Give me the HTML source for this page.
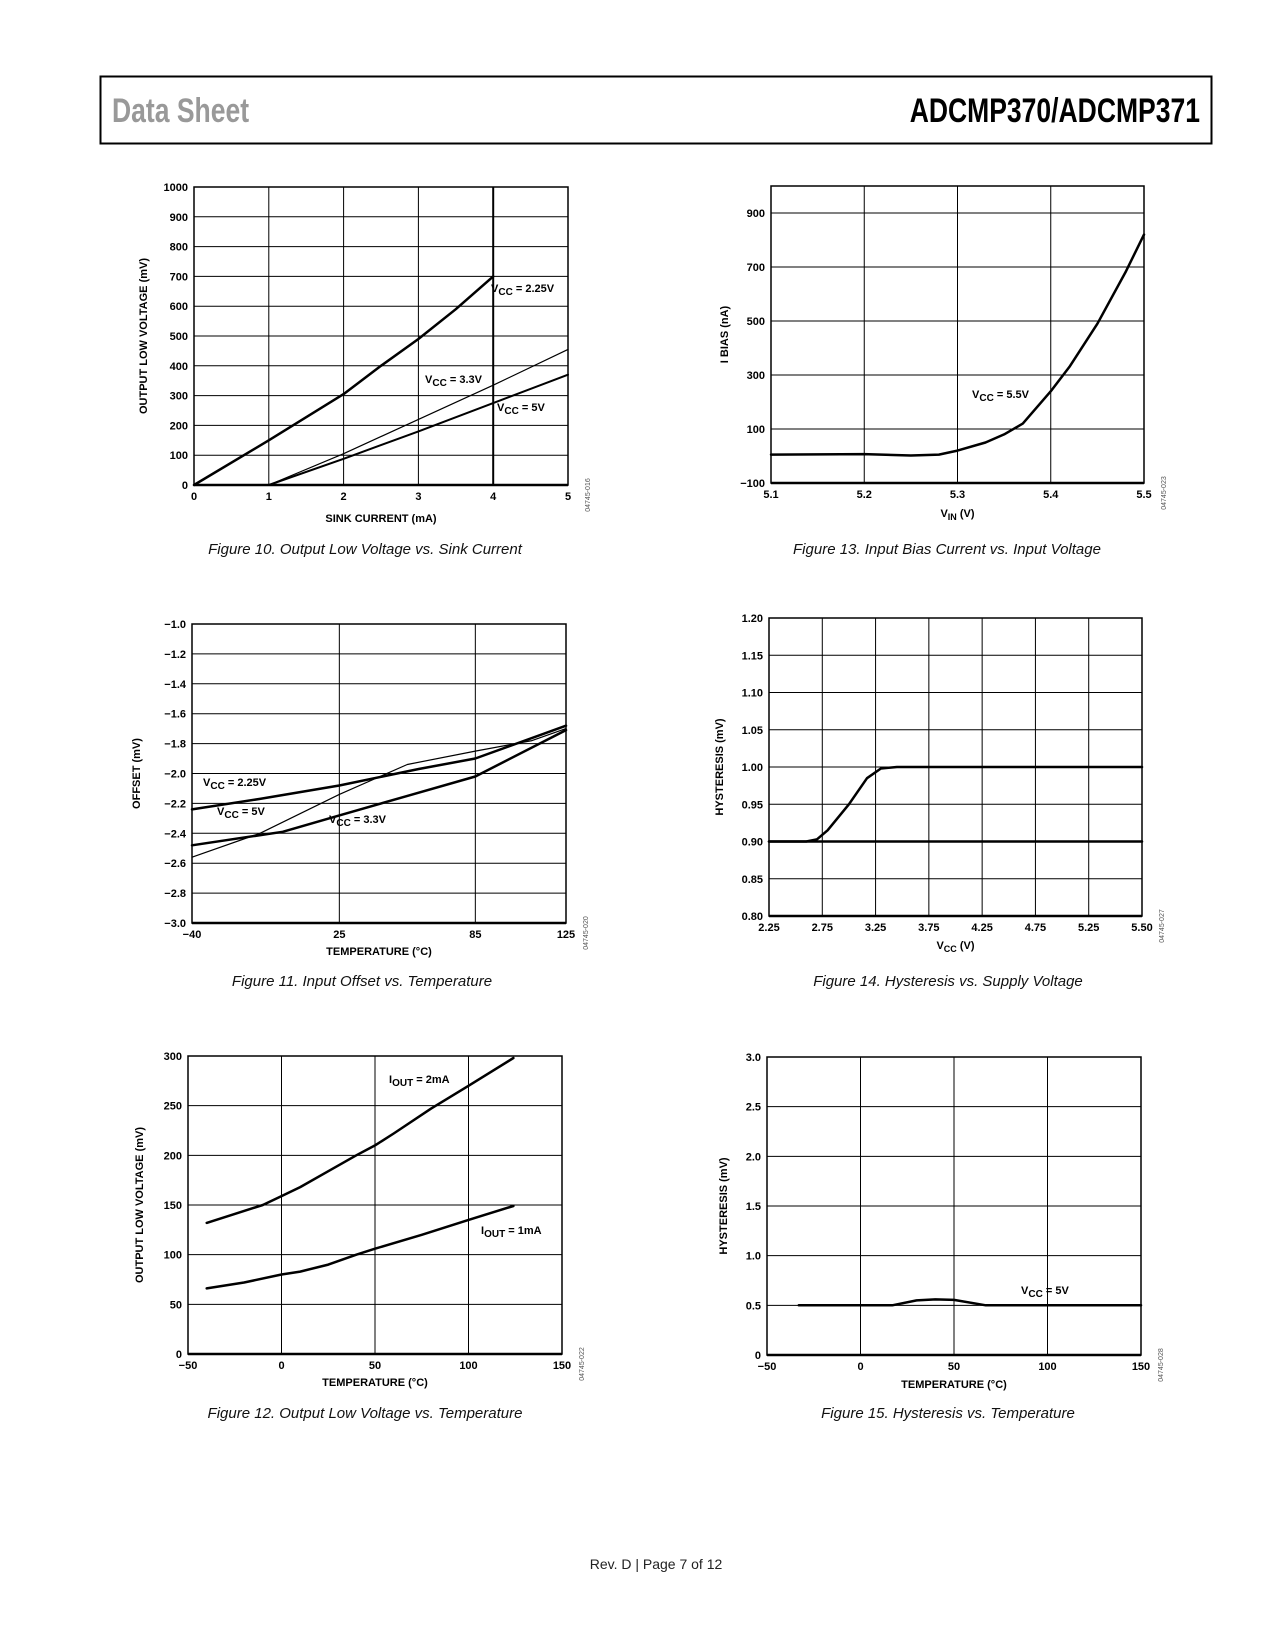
<!DOCTYPE html>
<html><head><meta charset="utf-8"><style>
body{margin:0;background:#fff;width:1275px;height:1650px;overflow:hidden;font-family:"Liberation Sans",sans-serif}
svg{position:absolute;left:0;top:0}
</style></head><body>
<svg id="pg" width="1275" height="1650" xmlns="http://www.w3.org/2000/svg">
<rect x="100.5" y="76.5" width="1111" height="67" fill="none" stroke="#000" stroke-width="2"/>
<text x="112" y="122" font-size="34" fill="#999" font-weight="bold" transform="translate(112,0) scale(0.78,1) translate(-112,0)">Data Sheet</text>
<text x="1200" y="122" font-size="34" fill="#000" font-weight="bold" text-anchor="end" transform="translate(1200,0) scale(0.78,1) translate(-1200,0)">ADCMP370/ADCMP371</text>
<text x="656" y="1569" font-size="14" text-anchor="middle" fill="#222">Rev. D | Page 7 of 12</text>
</svg>
<script>
// ---- data arrays ----
const fig10X = [0,1,2,3,4,5];
const fig10Y = [0,100,200,300,400,500,600,700,800,900,1000];
const fig10A_x = [0,1,2,2.5,3,3.5,4];
const fig10A_y = [0,150,305,400,490,590,700];
const fig10B_x = [1,2,3,4,5];
const fig10B_y = [0,105,220,335,455];
const fig10C_x = [1,2,3,4,5];
const fig10C_y = [0,88,180,275,370];

const fig13X = [5.1,5.2,5.3,5.4,5.5];
const fig13Y = [-100,100,300,500,700,900];
const fig13_x = [5.1,5.2,5.25,5.28,5.3,5.33,5.35,5.37,5.4,5.42,5.45,5.48,5.5];
const fig13_y = [5,7,2,5,20,50,80,120,240,330,490,680,820];

const fig11X = [-40,25,85,125];
const fig11Y = [-3.0,-2.8,-2.6,-2.4,-2.2,-2.0,-1.8,-1.6,-1.4,-1.2,-1.0];
const fig11A_x = [-40,-10,25,60,85,125];
const fig11A_y = [-2.24,-2.17,-2.08,-1.97,-1.9,-1.68];
const fig11B_x = [-40,0,25,55,85,125];
const fig11B_y = [-2.48,-2.39,-2.28,-2.15,-2.02,-1.71];
const fig11C_x = [-40,-10,25,55,85,110,125];
const fig11C_y = [-2.56,-2.4,-2.14,-1.94,-1.85,-1.78,-1.7];

const fig14X = [2.25,2.75,3.25,3.75,4.25,4.75,5.25,5.5];
const fig14XLabels = ["2.25","2.75","3.25","3.75","4.25","4.75","5.25","5.50"];
const fig14Y = [0.8,0.85,0.9,0.95,1.0,1.05,1.1,1.15,1.2];
const fig14_x = [2.25,2.6,2.7,2.8,3.0,3.17,3.3,3.45,5.5];
const fig14_y = [0.9,0.9,0.903,0.915,0.95,0.985,0.998,1.0,1.0];
const fig14B_x = [2.25,5.5];
const fig14B_y = [0.9,0.9];

const fig12X = [-50,0,50,100,150];
const fig12Y = [0,50,100,150,200,250,300];
const fig12A_x = [-40,-25,-10,0,10,25,40,50,60,80,100,124];
const fig12A_y = [132,141,150,159,168,184,200,210,222,247,270,298];
const fig12B_x = [-40,-20,0,10,25,40,50,75,100,124];
const fig12B_y = [66,72,80,83,90,100,106,120,135,149];

const fig15X = [-50,0,50,100,150];
const fig15Y = [0,0.5,1.0,1.5,2.0,2.5,3.0];
const fig15YLabels = ["0","0.5","1.0","1.5","2.0","2.5","3.0"];
const fig15_x = [-33,17,30,40,50,67,150];
const fig15_y = [0.5,0.5,0.55,0.56,0.555,0.5,0.5];

const NS="http://www.w3.org/2000/svg";
const pg=document.getElementById('pg');
function mk(tag,attrs,parent){const e=document.createElementNS(NS,tag);for(const k in attrs)e.setAttribute(k,attrs[k]);(parent||pg).appendChild(e);return e;}
function fmt(v){return (v<0?"\u2212":"")+Math.abs(v).toString();}

function chart(c){
  const g=mk('g',{});
  
  
  let sx;
  if(c.evenX){
    const n=c.xt.length-1;
    sx=v=>{
      let i=0;while(i<n-1&&v>c.xt[i+1])i++;
      const f=(v-c.xt[i])/(c.xt[i+1]-c.xt[i]);
      return c.L+(i+f)/n*(c.R-c.L);
    };
  } else sx=v=>c.L+(v-c.xmin)/(c.xmax-c.xmin)*(c.R-c.L);
  const sy=v=>c.B-(v-c.ymin)/(c.ymax-c.ymin)*(c.B-c.T);
  c.xt.forEach((v,i)=>{
    const ln=mk('line',{x1:sx(v),x2:sx(v),y1:c.T,y2:c.B,stroke:'#000','stroke-width':(c.thickX&&c.thickX.includes(v))?2:1},g);
    
    
    const t=mk('text',{x:sx(v),y:c.B+15,'font-size':11,'font-weight':'bold','text-anchor':'middle'},g);
    t.textContent=c.xl?c.xl[i]:fmt(v);
    
    
  });
  c.yt.forEach((v,i)=>{
    const ln=mk('line',{x1:c.L,x2:c.R,y1:sy(v),y2:sy(v),stroke:'#000','stroke-width':1},g);
    
    
    const t=mk('text',{x:c.L-6,y:sy(v)+4,'font-size':11,'font-weight':'bold','text-anchor':'end'},g);
    t.textContent=c.yl?c.yl[i]:(c.yfix!==undefined?(v<0?"\u2212":"")+Math.abs(v).toFixed(c.yfix):fmt(v));
    
    
  });
  const fr=mk('rect',{x:c.L,y:c.T,width:c.R-c.L,height:c.B-c.T,fill:'none',stroke:'#000','stroke-width':1.5},g);
  
  
  const ax=mk('line',{x1:c.L,x2:c.R,y1:c.B,y2:c.B,stroke:'#000','stroke-width':2.5},g);
  
  
  c.series.forEach(s=>{
    const pts=s.x.map((v,i)=>sx(v).toFixed(1)+','+sy(s.y[i]).toFixed(1)).join(' ');
    const p=mk('polyline',{points:pts,fill:'none',stroke:'#000','stroke-width':s.w,'stroke-linejoin':'round','stroke-linecap':'round'},g);
    
    
  });
  c.labels.forEach(l=>{
    const t=mk('text',{x:l.x,y:l.y,'font-size':11,'font-weight':'bold'},g);
    
    
    const a=mk('tspan',{},t);a.textContent=l.a;
    const b=mk('tspan',{dy:3,'font-size':10},t);b.textContent=l.sub;
    const d=mk('tspan',{dy:-3},t);d.textContent=l.rest;
  });
  const xt=mk('text',{x:(c.L+c.R)/2,y:c.B+c.xty,'font-size':11,'font-weight':'bold','text-anchor':'middle'},g);
  
  
  if(c.xsub){const a=mk('tspan',{},xt);a.textContent=c.xtitle;const b=mk('tspan',{dy:3,'font-size':9},xt);b.textContent=c.xsub;const d=mk('tspan',{dy:-3},xt);d.textContent=c.xrest;}
  else xt.textContent=c.xtitle;
  const yx=c.L-c.ytx, yy=(c.T+c.B)/2;
  const yt=mk('text',{x:yx,y:yy,'font-size':11,'font-weight':'bold','text-anchor':'middle',transform:`rotate(-90 ${yx} ${yy})`},g);
  yt.textContent=c.ytitle;
  
  
  const cx=c.R+22, cy=c.B+10;
  const cd=mk('text',{x:cx,y:cy,'font-size':7,fill:'#555','text-anchor':'middle',transform:`rotate(-90 ${cx} ${cy})`},g);
  cd.textContent=c.code;
  
  
  const cp=mk('text',{x:c.capx,y:c.capy,'font-size':15,'font-style':'italic','text-anchor':'middle',fill:'#111'},g);
  cp.textContent=c.caption;
  
  
}

chart({name:'figure-10-chart',L:194,T:187,R:568,B:485,xmin:0,xmax:5,ymin:0,ymax:1000,xt:fig10X,yt:fig10Y,thickX:[4],
 series:[{name:'line-vcc-2.25v',x:fig10A_x,y:fig10A_y,w:2.5},{name:'line-vcc-3.3v',x:fig10B_x,y:fig10B_y,w:1.2},{name:'line-vcc-5v',x:fig10C_x,y:fig10C_y,w:2}],
 labels:[{x:491,y:292,a:'V',sub:'CC',rest:' = 2.25V'},{x:425,y:383,a:'V',sub:'CC',rest:' = 3.3V'},{x:497,y:411,a:'V',sub:'CC',rest:' = 5V'}],
 xtitle:'SINK CURRENT (mA)',xty:37,ytitle:'OUTPUT LOW VOLTAGE (mV)',ytx:47,code:'04745-016',capx:365,capy:554,caption:'Figure 10. Output Low Voltage vs. Sink Current'});

chart({name:'figure-13-chart',L:771,T:186,R:1144,B:483,xmin:5.1,xmax:5.5,ymin:-100,ymax:1000,xt:fig13X,yt:fig13Y,
 series:[{name:'line-vcc-5.5v',x:fig13_x,y:fig13_y,w:2.5}],
 labels:[{x:972,y:398,a:'V',sub:'CC',rest:' = 5.5V'}],
 xtitle:'V',xsub:'IN',xrest:' (V)',xty:34,ytitle:'I BIAS (nA)',ytx:43,code:'04745-023',capx:947,capy:554,caption:'Figure 13. Input Bias Current vs. Input Voltage'});

chart({name:'figure-11-chart',L:192,T:624,R:566,B:923,xmin:-40,xmax:125,ymin:-3.0,ymax:-1.0,xt:fig11X,yt:fig11Y,yfix:1,
 series:[{name:'line-vcc-2.25v',x:fig11A_x,y:fig11A_y,w:2.5},{name:'line-vcc-3.3v',x:fig11B_x,y:fig11B_y,w:2.5},{name:'line-vcc-5v',x:fig11C_x,y:fig11C_y,w:1.2}],
 labels:[{x:203,y:786,a:'V',sub:'CC',rest:' = 2.25V'},{x:217,y:815,a:'V',sub:'CC',rest:' = 5V'},{x:329,y:823,a:'V',sub:'CC',rest:' = 3.3V'}],
 xtitle:'TEMPERATURE (\u00B0C)',xty:32,ytitle:'OFFSET (mV)',ytx:52,code:'04745-020',capx:362,capy:986,caption:'Figure 11. Input Offset vs. Temperature'});

chart({name:'figure-14-chart',L:769,T:618,R:1142,B:916,xmin:2.25,xmax:5.5,ymin:0.8,ymax:1.2,xt:fig14X,xl:fig14XLabels,yt:fig14Y,yfix:2,evenX:true,
 series:[{name:'line-hysteresis-0.9-baseline',x:fig14B_x,y:fig14B_y,w:2.5},{name:'line-hysteresis',x:fig14_x,y:fig14_y,w:2.5}],
 labels:[],
 xtitle:'V',xsub:'CC',xrest:' (V)',xty:33,ytitle:'HYSTERESIS (mV)',ytx:46,code:'04745-027',capx:948,capy:986,caption:'Figure 14. Hysteresis vs. Supply Voltage'});

chart({name:'figure-12-chart',L:188,T:1056,R:562,B:1354,xmin:-50,xmax:150,ymin:0,ymax:300,xt:fig12X,yt:fig12Y,
 series:[{name:'line-iout-2ma',x:fig12A_x,y:fig12A_y,w:2.5},{name:'line-iout-1ma',x:fig12B_x,y:fig12B_y,w:2.5}],
 labels:[{x:389,y:1083,a:'I',sub:'OUT',rest:' = 2mA'},{x:481,y:1234,a:'I',sub:'OUT',rest:' = 1mA'}],
 xtitle:'TEMPERATURE (\u00B0C)',xty:32,ytitle:'OUTPUT LOW VOLTAGE (mV)',ytx:45,code:'04745-022',capx:365,capy:1418,caption:'Figure 12. Output Low Voltage vs. Temperature'});

chart({name:'figure-15-chart',L:767,T:1057,R:1141,B:1355,xmin:-50,xmax:150,ymin:0,ymax:3.0,xt:fig15X,yt:fig15Y,yl:fig15YLabels,
 series:[{name:'line-vcc-5v',x:fig15_x,y:fig15_y,w:2.5}],
 labels:[{x:1021,y:1294,a:'V',sub:'CC',rest:' = 5V'}],
 xtitle:'TEMPERATURE (\u00B0C)',xty:33,ytitle:'HYSTERESIS (mV)',ytx:40,code:'04745-028',capx:948,capy:1418,caption:'Figure 15. Hysteresis vs. Temperature'});
</script>
</body></html>
